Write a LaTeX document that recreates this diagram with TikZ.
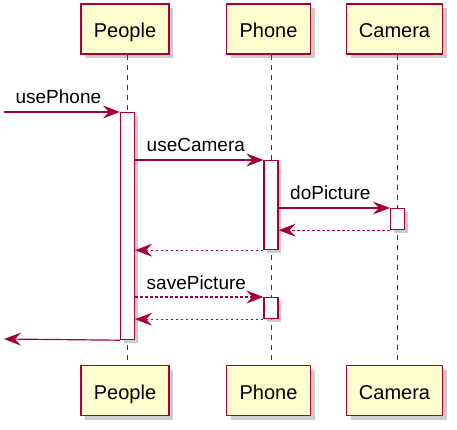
\documentclass[tikz,border=0pt]{standalone}
\usepackage{fontspec}
\setmainfont{Liberation Sans}
\usepackage{xcolor}
\usetikzlibrary{shadows,arrows.meta}
\definecolor{umlred}{HTML}{A80036}
\definecolor{umlyellow}{HTML}{FEFECE}

\begin{document}
\begin{tikzpicture}[x=1pt,y=-1pt,
        participant/.style={
            draw=umlred, fill=umlyellow,
            line width=1.5pt,
            minimum height=50pt, % Adjust box height here
            inner sep=0pt,
            text height=18pt, text depth=0pt,
            font=\fontsize{20}{24}\selectfont,
            drop shadow={shadow xshift=4pt, shadow yshift=-4pt, fill=black!40, opacity=0.5}
        },
        activation/.style={
            draw=umlred, fill=white,
            line width=1.2pt,
            minimum width=14pt,
            inner sep=0pt, anchor=north,
            drop shadow={shadow xshift=3pt, shadow yshift=-3pt, fill=black!40, opacity=0.5}
        },
        lifeline/.style={draw=umlred, line width=1pt, dash pattern=on 5pt off 5pt},
        msg/.style={draw=umlred, line width=1.2pt, -{Stealth[length=17pt,width=13pt,inset=6pt]}},
        reply/.style={msg, dash pattern=on 2.5pt off 2.5pt},
        msglabel/.style={anchor=base west, inner sep=0pt, font=\fontsize{19}{22}\selectfont,
            at start, xshift=11pt, yshift=8pt}
    ]
    \useasboundingbox (0,0) rectangle (457,430);

% Participant boxes, top and bottom
    \node[participant, minimum width=88pt] (peopleTop) at (125,29) {People};
    \node[participant, minimum width=84pt] (phoneTop) at (268.5,29) {Phone};
    \node[participant, minimum width=96pt] (cameraTop) at (394.5,29) {Camera};
    \node[participant, minimum width=88pt] (peopleBot) at (125,390.5) {People};
    \node[participant, minimum width=84pt] (phoneBot) at (268.5,390.5) {Phone};
    \node[participant, minimum width=96pt] (cameraBot) at (394.5,390.5) {Camera};

% Lifelines
    \draw[lifeline] ([xshift=2.5pt]peopleTop.south) -- ([xshift=2.5pt]peopleBot.north);
    \draw[lifeline] ([xshift=2.5pt]phoneTop.south) -- ([xshift=2.5pt]phoneBot.north);
    \draw[lifeline] ([xshift=2.5pt]cameraTop.south) -- ([xshift=2.5pt]cameraBot.north);

% Activation bars
    \node[activation, minimum height=227pt] (actPeople) at (127.5,112) {};
    \node[activation, minimum height=89pt] (actPhone) at (271,160) {};
    \node[activation, minimum height=21pt] (actCamera) at (397.5,208) {};
    \node[activation, minimum height=21pt] (actPhoneB) at (271,297) {};

% Free ends on the left
    \coordinate (callIn) at (4,112);
    \coordinate (callOut) at (4,339);

% Messages
    \draw[msg] (callIn) -- (actPeople.north west) node[msglabel] {usePhone};
    \draw[msg] (actPeople.east |- actPhone.north) -- (actPhone.north west) node[msglabel] {useCamera};
    \draw[msg] (actPhone.east |- actCamera.north) -- (actCamera.north west) node[msglabel] {doPicture};
    \draw[reply] (actCamera.south west) -- (actPhone.east |- actCamera.south);
    \draw[reply] (actPhone.south west) -- (actPeople.east |- actPhone.south);
    \draw[reply] (actPeople.east |- actPhoneB.north) -- (actPhoneB.north west) node[msglabel] {savePicture};
    \draw[reply] (actPhoneB.south west) -- (actPeople.east |- actPhoneB.south);
    \draw[msg] (actPeople.south west) -- (callOut);

\end{tikzpicture}
\end{document}
